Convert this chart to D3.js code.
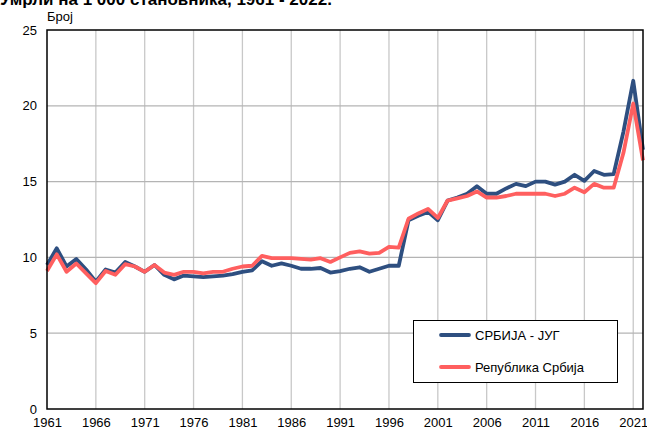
<!DOCTYPE html>
<html>
<head>
<meta charset="utf-8">
<script src="https://cdn.jsdelivr.net/npm/d3@7"></script>
<style>
  body { margin: 0; background: #fff; }
  text { font-family: "Liberation Sans", Arial, sans-serif; }
</style>
</head>
<body>
<div id="chart"></div>
<script>
// Data
const years = d3.range(1961, 2023)
const jug = [9.5, 10.6, 9.4, 9.9, 9.2, 8.4, 9.2, 9.0, 9.7, 9.4,
  9.05, 9.5, 8.85, 8.55, 8.8, 8.75, 8.7, 8.75, 8.8, 8.9,
  9.05, 9.15, 9.75, 9.45, 9.6, 9.45, 9.25, 9.25, 9.3, 9.0,
  9.1, 9.25, 9.35, 9.05, 9.25, 9.45, 9.45, 12.45, 12.75, 13.0,
  12.45, 13.75, 13.95, 14.2, 14.7, 14.2, 14.2, 14.55, 14.85, 14.7,
  15.0, 15.0, 14.8, 15.0, 15.45, 15.05, 15.7, 15.45, 15.5, 18.3,
  21.65, 17.1]
const srbija = [9.1, 10.2, 9.05, 9.6, 8.95, 8.3, 9.1, 8.85, 9.55, 9.4,
  9.05, 9.5, 9.0, 8.85, 9.05, 9.05, 8.95, 9.05, 9.05, 9.25,
  9.4, 9.45, 10.1, 9.95, 9.95, 9.95, 9.9, 9.85, 9.95, 9.7,
  10.0, 10.3, 10.4, 10.25, 10.3, 10.7, 10.65, 12.55, 12.9, 13.2,
  12.6, 13.75, 13.9, 14.05, 14.35, 13.95, 13.95, 14.05, 14.2, 14.2,
  14.2, 14.2, 14.05, 14.2, 14.6, 14.3, 14.85, 14.6, 14.6, 16.9,
  20.15, 16.4]
const xTicks = [1961, 1966, 1971, 1976, 1981, 1986, 1991, 1996, 2001, 2006, 2011, 2016, 2021]
const yTicks = [0, 5, 10, 15, 20, 25]
const seriesNames = ['СРБИЈА - ЈУГ', 'Република Србија']
const colors = ['#2e4f80', '#ff5f5f']

// Canvas
const width = 647,
  height = 430,
  plotLeft = 47,
  plotRight = 643,
  plotTop = 30,
  plotBottom = 409

const svg = d3.select('#chart')
  .append('svg')
  .attr('width', width)
  .attr('height', height)

const x = d3.scaleLinear().domain([1961, 2022]).range([plotLeft, plotRight])
const y = d3.scaleLinear().domain([0, 25]).range([plotBottom, plotTop])

// title (its top half is cut off in the original too)
svg.append('text')
  .attr('x', 0)
  .attr('y', 5)
  .attr('font-size', 17)
  .attr('font-weight', 'bold')
  .text('Умрли на 1 000 становника, 1961 - 2022.')

svg.append('text')
  .attr('x', 47)
  .attr('y', 21)
  .attr('font-size', 13)
  .text('Број')

// grid
svg.append('g')
  .selectAll('line')
  .data(xTicks.slice(1))
  .enter()
  .append('line')
  .attr('x1', d => x(d))
  .attr('x2', d => x(d))
  .attr('y1', plotTop)
  .attr('y2', plotBottom)
  .attr('stroke', '#c8c8c8')
  .attr('stroke-width', 1.3)

svg.append('g')
  .selectAll('line')
  .data(yTicks.slice(1, -1))
  .enter()
  .append('line')
  .attr('x1', plotLeft)
  .attr('x2', plotRight)
  .attr('y1', d => y(d))
  .attr('y2', d => y(d))
  .attr('stroke', '#b4b4b4')
  .attr('stroke-width', 1.3)

// axes
const xAxis = d3.axisBottom(x)
  .tickValues(xTicks)
  .tickFormat(d3.format('d'))
  .tickSize(0)
  .tickPadding(9)

const yAxis = d3.axisLeft(y)
  .tickValues(yTicks)
  .tickSize(0)
  .tickPadding(10)

const gx = svg.append('g')
  .attr('transform', `translate(0, ${plotBottom})`)
  .call(xAxis)
gx.select('.domain').remove()
gx.selectAll('text').attr('font-size', 13).attr('font-family', '"Liberation Sans", Arial, sans-serif').attr('fill', '#000')

const gy = svg.append('g')
  .attr('transform', `translate(${plotLeft}, 0)`)
  .call(yAxis)
gy.select('.domain').remove()
gy.selectAll('text').attr('font-size', 13).attr('font-family', '"Liberation Sans", Arial, sans-serif').attr('fill', '#000')

// lines - red one drawn last, on top
const line = d3.line()
  .x((d, i) => x(years[i]))
  .y(d => y(d))

;[jug, srbija].forEach((s, k) => {
  svg.append('path')
    .datum(s)
    .attr('fill', 'none')
    .attr('stroke', colors[k])
    .attr('stroke-width', 3.8)
    .attr('stroke-linejoin', 'round')
    .attr('d', line)
})

// frame
svg.append('rect')
  .attr('x', plotLeft)
  .attr('y', plotTop)
  .attr('width', plotRight - plotLeft)
  .attr('height', plotBottom - plotTop)
  .attr('fill', 'none')
  .attr('stroke', '#000')
  .attr('stroke-width', 1.5)

// legend
const lg = svg.append('g')
lg.append('rect')
  .attr('x', 413.5)
  .attr('y', 320.5)
  .attr('width', 204)
  .attr('height', 62)
  .attr('fill', '#fff')
  .attr('stroke', '#000')
  .attr('stroke-width', 1)

seriesNames.forEach((name, i) => {
  const yy = 335 + i * 32
  lg.append('line')
    .attr('x1', 441)
    .attr('x2', 469)
    .attr('y1', yy)
    .attr('y2', yy)
    .attr('stroke', colors[i])
    .attr('stroke-width', 3.8)
    .attr('stroke-linecap', 'round')
  lg.append('text')
    .attr('x', 475)
    .attr('y', yy + 5)
    .attr('font-size', 13)
    .text(name)
})
</script>
</body>
</html>
